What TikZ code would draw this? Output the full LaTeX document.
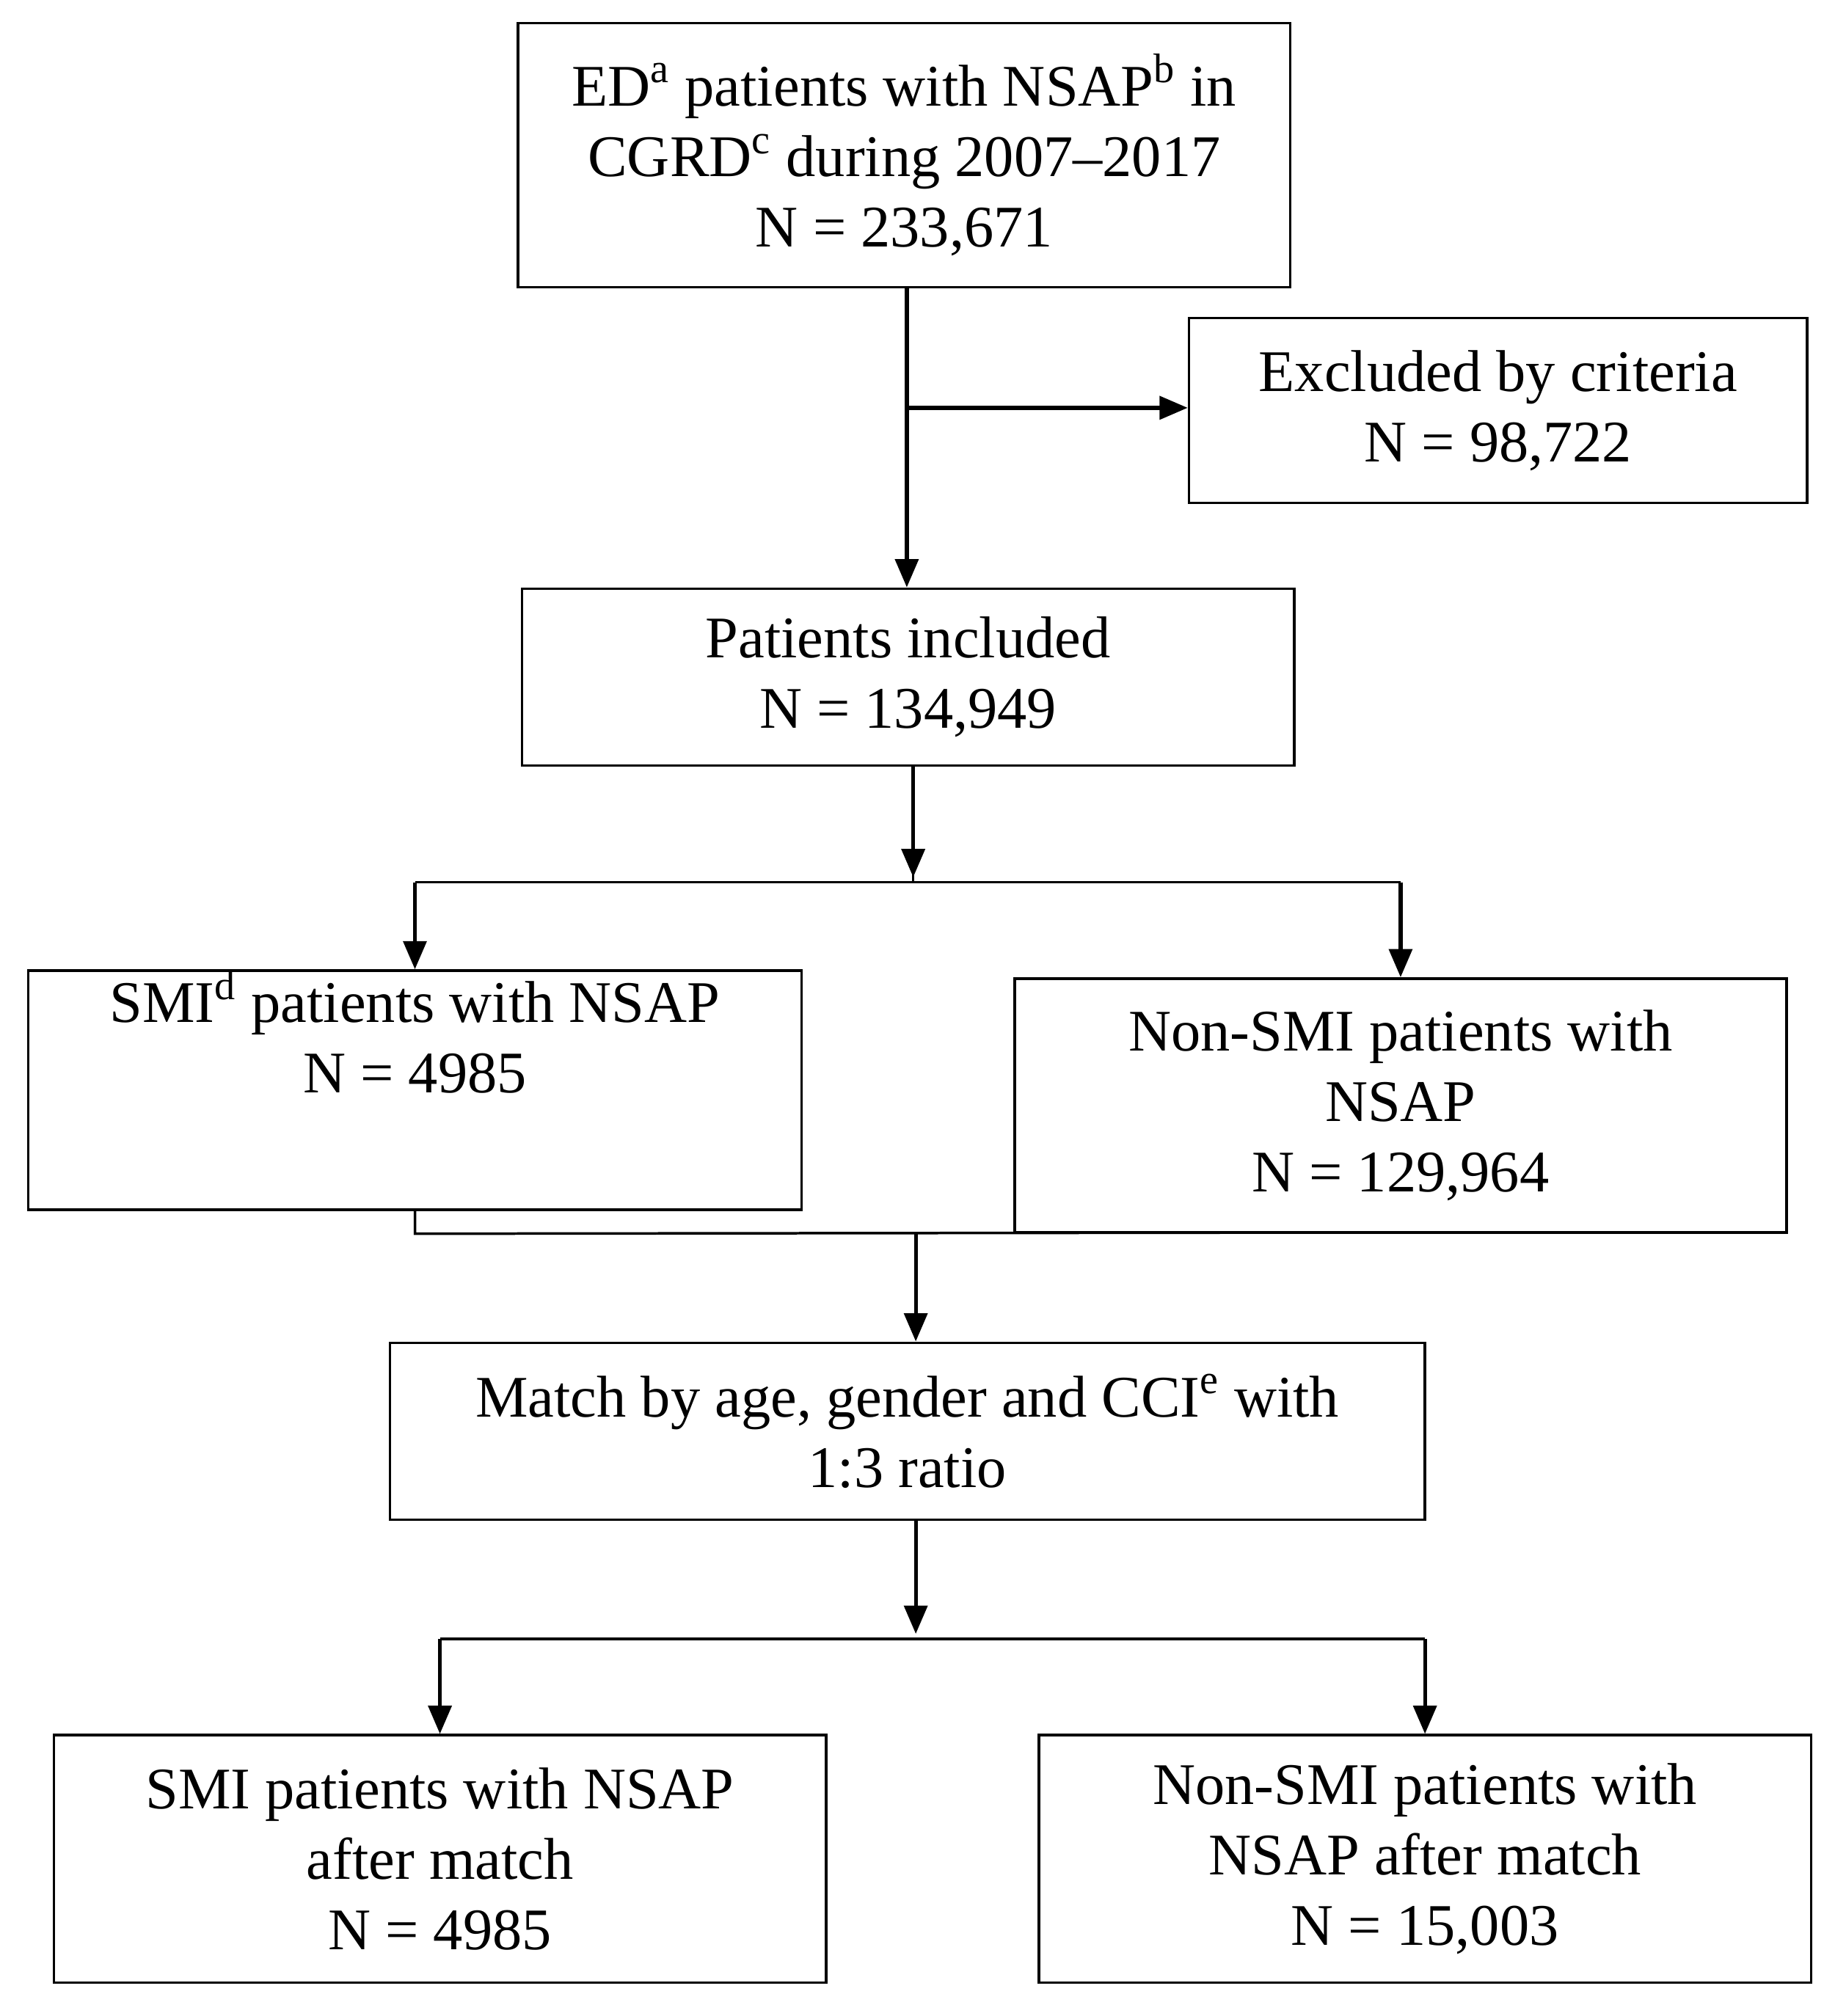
\documentclass[tikz,border=0pt]{standalone}
\usepackage{fontspec}
\setmainfont{Liberation Serif}
\usetikzlibrary{arrows.meta}
\tikzset{every picture/.style={line width=1pt}}
\tikzset{
  box/.style={draw,line width=1pt,align=center,inner sep=0pt,font=\fontsize{23}{27.5}\selectfont},
  flow/.style={line width=1.5pt,-{Triangle[length=11pt,width=9pt]}},
  link/.style={line width=1pt}
}
\begin{document}
\begin{tikzpicture}[x=0.5pt,y=0.5pt,yscale=-1,xscale=1]
\useasboundingbox (0,0) rectangle (1422,1572);

% Boxes
\node[box,minimum width=301pt,minimum height=103pt] (start) at (705,121) {ED\textsuperscript{a} patients with NSAP\textsuperscript{b} in\\CGRD\textsuperscript{c} during 2007--2017\\N = 233,671};
\node[box,minimum width=241pt,minimum height=72pt] (excl) at (1168,320) {Excluded by criteria\\N = 98,722};
\node[box,minimum width=301pt,minimum height=69pt] (incl) at (708,528) {Patients included\\N = 134,949};
\node[box,minimum width=301.5pt,minimum height=87pt] (smi) at (323.5,850) {SMI\textsuperscript{d} patients with NSAP\\N = 4985\\[18pt]};
\node[box,minimum width=301pt,minimum height=99pt] (nonsmi) at (1092,862) {Non-SMI patients with\\NSAP\\N = 129,964};
\node[box,minimum width=403.5pt,minimum height=69pt] (match) at (707.5,1116) {Match by age, gender and CCI\textsuperscript{e} with\\1:3 ratio};
\node[box,minimum width=301pt,minimum height=96.5pt] (smiafter) at (343,1449.5) {SMI patients with NSAP\\after match\\N = 4985};
\node[box,minimum width=301pt,minimum height=96.5pt] (nonafter) at (1111,1449.5) {Non-SMI patients with\\NSAP after match\\N = 15,003};

% Junctions
\coordinate (split1) at (707,318);
\coordinate (split2) at (712,688);
\coordinate (join1) at (714,961);
\coordinate (split3) at (714,1278);

% Connectors
\draw[flow] (start.south -| split1) -- (incl.north -| split1);
\draw[flow] (split1) -- (excl.west |- split1);
\draw[link] (incl.south -| split2) -- (split2);
\draw[flow] (incl.south -| split2) -- ([yshift=-2pt]split2);
\draw[link] (smi.north |- split2) -- (nonsmi.north |- split2);
\draw[flow] (smi.north |- split2) -- (smi.north);
\draw[flow] (nonsmi.north |- split2) -- (nonsmi.north);
\draw[link] (smi.south) -- (smi.south |- join1) -- (nonsmi.south -| smi.north |- join1) -- (nonsmi.north |- join1);
\draw[flow] (join1) -- (match.north -| join1);
\draw[flow] (match.south -| split3) -- ([yshift=-2pt]split3);
\draw[link] (smiafter.north |- split3) -- (nonafter.north |- split3);
\draw[flow] (smiafter.north |- split3) -- (smiafter.north);
\draw[flow] (nonafter.north |- split3) -- (nonafter.north);

\end{tikzpicture}
\end{document}
